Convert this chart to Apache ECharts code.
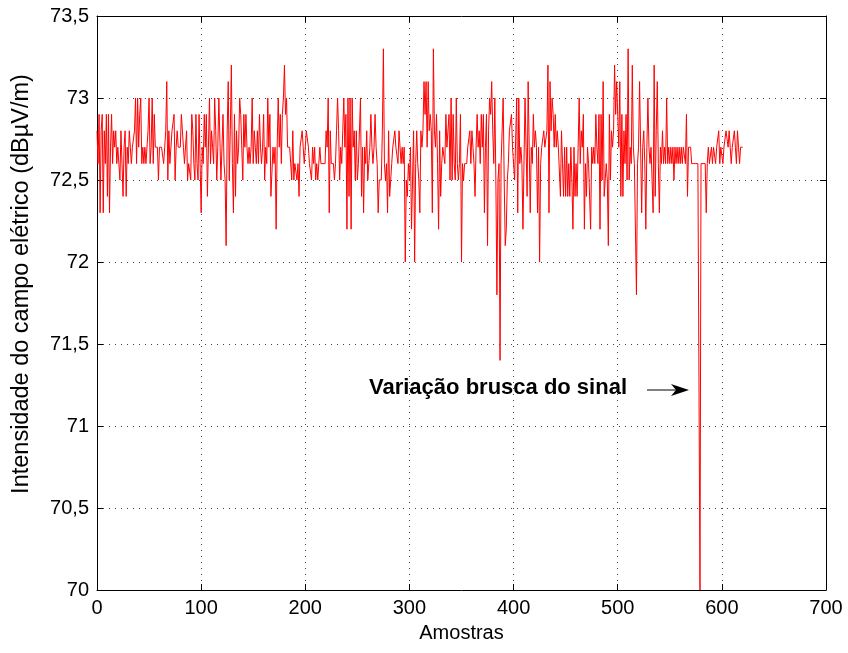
<!DOCTYPE html>
<html>
<head>
<meta charset="utf-8">
<title>Intensidade do campo elétrico</title>
<script src="https://cdn.jsdelivr.net/npm/echarts@6/dist/echarts.min.js"></script>
<style>
	html, body { margin: 0; padding: 0; background: #fff; }
	#grafico { width: 848px; height: 653px; }
</style>
</head>
<body>
<div id="grafico"></div>
<script>
	// amostras 0-99
	var campo0 = [
		72.8,72.6,72.9,72.3,72.8,72.9,72.3,72.8,72.6,72.9,
		72.4,72.9,72.3,72.7,72.9,72.6,72.8,72.7,72.8,72.6,
		72.7,72.7,72.5,72.8,72.6,72.4,72.7,72.8,72.4,72.7,
		72.6,72.8,72.7,72.6,72.7,72.7,72.8,73.0,72.6,73.0,
		72.7,72.9,73.0,72.6,72.7,72.6,72.7,72.6,72.6,72.8,
		73.0,72.6,72.7,73.0,72.6,72.9,72.7,72.7,72.7,72.5,
		72.7,72.7,72.7,72.7,72.6,72.7,72.8,73.1,72.5,72.8,
		72.6,72.7,72.8,72.8,72.9,72.5,72.7,72.8,72.7,72.7,
		72.7,72.9,72.8,72.7,72.6,72.6,72.8,72.5,72.6,72.6,
		72.5,72.9,72.8,72.6,72.5,72.9,72.6,72.5,72.9,72.6
	];
	// amostras 100-199
	var campo1 = [
		72.3,72.7,72.6,72.9,72.7,72.9,72.4,72.7,73.0,72.6,
		72.8,72.7,72.6,73.0,72.8,72.5,72.7,73.0,73.0,72.5,
		72.7,72.9,72.6,72.5,72.1,72.8,73.1,72.5,72.8,73.2,
		72.6,72.3,72.9,72.4,72.8,72.6,72.7,73.0,72.9,72.9,
		72.5,72.9,72.7,72.9,72.7,72.6,72.7,72.6,72.7,73.0,
		72.6,72.8,72.7,72.6,72.8,72.6,72.9,72.7,72.6,72.7,
		72.9,72.5,72.7,72.6,73.0,72.7,72.9,72.4,72.4,72.7,
		72.6,72.7,72.2,72.7,73.0,72.7,72.9,72.6,72.9,73.0,
		73.2,72.9,73.0,72.7,72.7,72.7,72.6,72.5,72.8,72.5,
		72.6,72.6,72.5,72.6,72.4,72.7,72.7,72.8,72.7,72.6
	];
	// amostras 200-299
	var campo2 = [
		72.6,72.8,72.8,72.7,72.6,72.6,72.5,72.7,72.6,72.7,
		72.5,72.6,72.5,72.6,72.7,72.6,72.6,72.6,72.6,72.6,
		72.8,72.7,73.0,72.3,72.8,72.6,72.6,72.6,72.5,72.6,
		72.8,73.0,72.8,72.5,72.7,72.6,72.8,73.0,72.7,72.9,
		72.2,73.0,72.4,73.0,72.2,73.0,72.7,72.8,72.5,72.8,
		72.5,72.6,72.6,73.0,72.4,72.7,72.3,72.7,72.6,72.8,
		72.5,72.6,72.7,72.9,72.7,72.6,72.7,72.9,72.7,72.6,
		72.3,72.5,72.5,72.5,72.8,73.3,72.6,72.5,72.6,72.3,
		72.8,72.4,72.4,72.6,72.7,72.7,72.8,72.7,72.7,72.6,
		72.8,72.7,72.6,72.7,72.6,72.7,72.0,72.5,72.4,72.6
	];
	// amostras 300-399
	var campo3 = [
		72.5,72.7,72.2,72.2,72.8,72.0,72.6,72.8,72.6,72.5,
		72.3,72.8,72.7,72.8,73.1,72.9,73.1,72.7,73.1,72.8,
		72.9,72.8,72.3,73.3,72.8,72.7,72.9,72.6,72.2,72.8,
		72.4,72.6,72.7,72.7,72.6,72.9,72.7,72.7,72.9,72.5,
		73.0,72.5,72.9,72.6,72.5,73.0,72.6,72.5,72.6,72.9,
		72.0,72.6,72.5,72.6,72.6,72.6,72.7,72.7,72.8,72.6,
		72.8,72.7,72.6,72.4,72.7,72.9,72.7,72.8,72.6,72.9,
		72.7,72.9,72.3,72.7,72.9,72.1,72.8,73.0,72.9,73.1,
		72.8,72.6,73.0,72.5,71.8,72.5,72.6,71.4,72.6,72.6,
		73.0,72.5,72.1,72.2,72.5,72.6,72.8,72.8,72.9,72.7
	];
	// amostras 400-499
	var campo4 = [
		72.7,72.5,72.5,73.0,72.3,73.0,72.6,72.7,72.6,72.2,
		72.2,73.0,72.7,72.4,73.1,72.7,72.3,72.7,72.6,72.9,
		72.7,72.8,72.7,72.3,72.7,72.0,72.6,72.7,72.7,72.8,
		72.7,72.7,72.8,73.2,72.3,73.1,72.8,73.0,72.9,72.7,
		72.9,72.7,72.8,72.7,72.7,72.4,72.8,72.6,72.4,72.7,
		72.4,72.7,72.4,72.6,72.4,72.7,72.5,72.2,72.7,72.4,
		72.6,72.4,72.7,73.0,72.6,72.8,72.7,72.9,72.2,72.6,
		72.4,72.7,72.6,72.6,72.2,72.7,72.6,72.7,72.6,72.9,
		72.7,72.6,72.9,72.2,72.9,72.5,73.1,72.4,72.5,72.6,
		72.5,72.1,72.9,72.5,72.8,72.7,72.8,73.2,72.9,73.1
	];
	// amostras 500-599
	var campo5 = [
		73.1,72.7,73.1,72.4,72.9,72.4,72.8,72.6,72.9,72.5,
		73.3,72.5,72.7,72.6,73.2,72.7,72.6,72.6,71.8,72.6,
		72.7,73.1,72.7,72.3,72.7,72.8,72.6,72.2,72.7,73.0,
		72.7,72.6,72.7,72.7,72.3,73.2,72.4,72.8,73.1,72.6,
		72.3,72.7,72.6,72.8,72.6,72.7,72.6,73.0,72.6,72.7,
		72.6,72.7,72.6,72.7,72.5,72.7,72.6,72.7,72.6,72.7,
		72.6,72.7,72.6,72.7,72.7,72.6,72.9,72.4,72.7,72.7,
		72.7,72.6,72.6,72.6,72.6,72.6,72.6,72.6,72.6,70.0,
		72.6,72.6,72.6,72.6,72.6,72.3,72.6,72.7,72.6,72.6,
		72.7,72.6,72.7,72.7,72.6,72.7,72.7,72.8,72.6,72.7
	];
	// amostras 600-620
	var campo6 = [
		72.7,72.6,72.7,72.7,72.8,72.8,72.7,72.8,72.7,72.6,
		72.7,72.7,72.8,72.7,72.6,72.8,72.7,72.6,72.7,72.7,
		72.7
	];

	var intensidade = campo0.concat(campo1, campo2, campo3, campo4, campo5, campo6);
	var serie = intensidade.map(function (v, i) { return [i, v]; });

	var fonte = 'Liberation Sans, Arial, sans-serif';
	var grade = { show: true, lineStyle: { color: '#444', type: [1, 5], width: 1 } };
	var caixa = { show: true, onZero: false, lineStyle: { color: '#000', width: 1 } };
	var marca = { show: true, inside: true, length: 6, lineStyle: { color: '#000' } };

	var option = {
		animation: false,
		backgroundColor: '#fff',
		grid: { left: 97, right: 22, top: 16, bottom: 63 },
		xAxis: [
			{
				type: 'value', min: 0, max: 700, interval: 100,
				name: 'Amostras', nameLocation: 'middle', nameGap: 33,
				nameTextStyle: { fontFamily: fonte, fontSize: 20, color: '#000' },
				axisLine: caixa, axisTick: marca, splitLine: grade,
				axisLabel: { fontFamily: fonte, fontSize: 20, color: '#000', margin: 8 }
			},
			{
				type: 'value', min: 0, max: 700, interval: 100, position: 'top',
				axisLine: caixa, axisTick: marca, splitLine: { show: false },
				axisLabel: { show: false }
			}
		],
		yAxis: [
			{
				type: 'value', min: 70, max: 73.5, interval: 0.5,
				axisLine: caixa, axisTick: marca, splitLine: grade,
				axisLabel: {
					fontFamily: fonte, fontSize: 20, color: '#000', margin: 8,
					formatter: function (v) { return String(+v.toFixed(1)).replace('.', ','); }
				}
			},
			{
				type: 'value', min: 70, max: 73.5, interval: 0.5, position: 'right',
				axisLine: caixa, axisTick: marca, splitLine: { show: false },
				axisLabel: { show: false }
			}
		],
		series: [
			{
				name: 'Intensidade',
				type: 'line',
				data: serie,
				showSymbol: false,
				symbol: 'none',
				lineStyle: { color: '#ff0000', width: 1 },
				z: 3
			}
		],
		graphic: [
			{
				// titulo do eixo y (um pouco acima do centro, como no original)
				type: 'text', x: 22, y: 284, rotation: Math.PI / 2,
				style: {
					text: 'Intensidade do campo elétrico (dBµV/m)', fontFamily: fonte, fontSize: 23.5,
					fill: '#000', align: 'center', verticalAlign: 'middle'
				}
			},
			{
				type: 'text', left: 369, top: 377,
				style: { text: 'Variação brusca do sinal', fontFamily: fonte, fontSize: 22, fontWeight: 'bold', fill: '#000' }
			},
			{
				type: 'line', shape: { x1: 647, y1: 390, x2: 676, y2: 390 },
				style: { stroke: '#000', lineWidth: 1 }
			},
			{
				type: 'polygon', shape: { points: [[689, 390], [671, 384], [676, 390], [671, 396]] },
				style: { fill: '#000' }
			}
		]
	};

	var grafico = echarts.init(document.getElementById('grafico'));
	grafico.setOption(option);
</script>
</body>
</html>
